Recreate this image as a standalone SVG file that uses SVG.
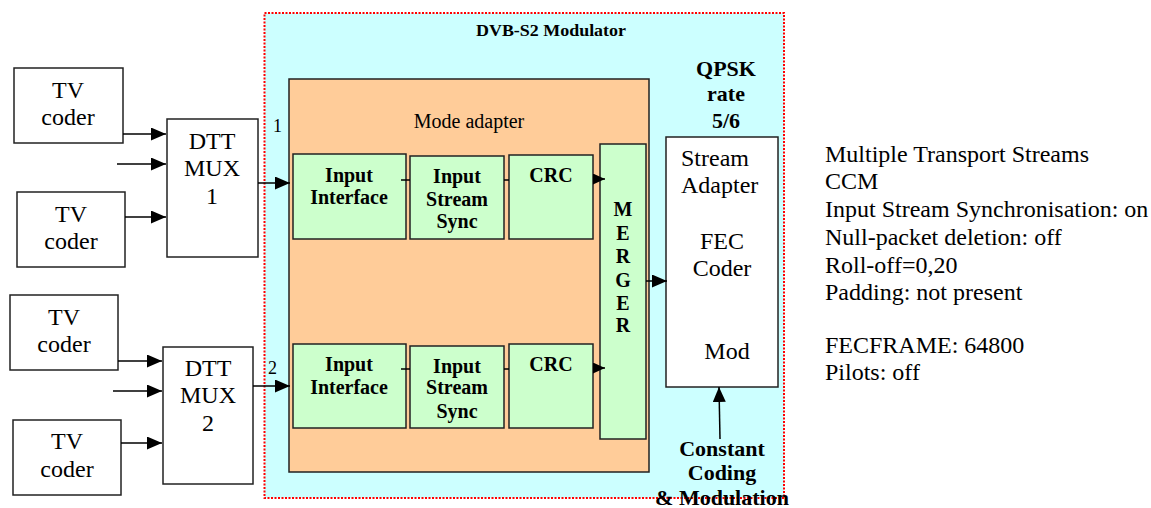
<svg xmlns="http://www.w3.org/2000/svg" width="1151" height="508" viewBox="0 0 1151 508">
<style>
.box{fill:#fff;stroke:#222;stroke-width:1.5}
.green{fill:#CCFFCC;stroke:#222;stroke-width:1.5}
.orange{fill:#FFCC99;stroke:#222;stroke-width:1.5}
text{font-family:'Liberation Serif',serif;fill:#000}
.t{font-size:24px}
.m{font-size:20px}
.b{font-size:20px;font-weight:bold}
.b22{font-size:22px;font-weight:bold}
.n{font-size:18px}
.c{text-anchor:middle}
.ln{stroke:#000;stroke-width:1.5;fill:none}
</style>
<defs>
<marker id="ah" markerUnits="userSpaceOnUse" markerWidth="15" markerHeight="13" refX="15" refY="6.5" orient="auto">
<path d="M0,0 L15,6.5 L0,13 z" fill="#000"/>
</marker>
<marker id="as" markerUnits="userSpaceOnUse" markerWidth="12" markerHeight="11" refX="12" refY="5.5" orient="auto">
<path d="M0,0 L12,5.5 L0,11 z" fill="#000"/>
</marker>
</defs>

<g id="modulator">
<rect x="264.5" y="13" width="519.5" height="485" fill="#CCFFFF" stroke="#FF0000" stroke-width="2" stroke-dasharray="2,1.5"/>
<text class="b c" x="551" y="36" style="font-size:17px" textLength="150" lengthAdjust="spacingAndGlyphs">DVB-S2 Modulator</text>
</g>

<g id="tvcoder1"><rect class="box" x="14" y="68" width="109" height="75"/>
<text class="t c" x="68" y="98">TV</text><text class="t c" x="68" y="125">coder</text></g>
<g id="tvcoder2"><rect class="box" x="17" y="192" width="108" height="75"/>
<text class="t c" x="71" y="222">TV</text><text class="t c" x="71" y="249">coder</text></g>
<g id="tvcoder3"><rect class="box" x="10" y="295" width="108" height="75"/>
<text class="t c" x="64" y="325">TV</text><text class="t c" x="64" y="352">coder</text></g>
<g id="tvcoder4"><rect class="box" x="13" y="420" width="108" height="75"/>
<text class="t c" x="67" y="449">TV</text><text class="t c" x="67" y="477">coder</text></g>

<g id="mux1"><rect class="box" x="167" y="119" width="91" height="138"/>
<text class="t c" x="212" y="149">DTT</text><text class="t c" x="212" y="176">MUX</text><text class="t c" x="212" y="204">1</text></g>
<g id="mux2"><rect class="box" x="163" y="347" width="90" height="137"/>
<text class="t c" x="208" y="376">DTT</text><text class="t c" x="208" y="403">MUX</text><text class="t c" x="208" y="431">2</text></g>

<g id="modeadapter"><rect class="orange" x="289" y="79" width="360" height="393"/>
<text class="m c" x="469" y="128">Mode adapter</text></g>

<g id="inputinterface1"><rect class="green" x="293" y="154" width="113" height="85"/>
<text class="b c" x="349" y="182">Input</text><text class="b c" x="349" y="204">Interface</text></g>
<g id="inputstreamsync1"><rect class="green" x="410" y="156" width="94" height="83"/>
<text class="b c" x="457" y="183">Input</text><text class="b c" x="457" y="206">Stream</text><text class="b c" x="457" y="228">Sync</text></g>
<g id="crc1"><rect class="green" x="509" y="155" width="84" height="84"/>
<text class="b c" x="551" y="182">CRC</text></g>

<g id="inputinterface2"><rect class="green" x="293" y="344" width="113" height="84"/>
<text class="b c" x="349" y="371">Input</text><text class="b c" x="349" y="394">Interface</text></g>
<g id="inputstreamsync2"><rect class="green" x="410" y="346" width="94" height="82"/>
<text class="b c" x="457" y="373">Input</text><text class="b c" x="457" y="394">Stream</text><text class="b c" x="457" y="418">Sync</text></g>
<g id="crc2"><rect class="green" x="509" y="344" width="84" height="84"/>
<text class="b c" x="551" y="371">CRC</text></g>

<g id="merger"><rect class="green" x="600" y="144" width="46" height="295"/>
<text class="b c" x="623" y="216">M</text><text class="b c" x="623" y="240">E</text><text class="b c" x="623" y="263">R</text><text class="b c" x="623" y="287">G</text><text class="b c" x="623" y="310">E</text><text class="b c" x="623" y="332">R</text></g>

<g id="streamadapter"><rect class="box" x="666" y="137" width="112" height="250"/>
<text class="t" x="681" y="166">Stream</text><text class="t" x="681" y="193">Adapter</text>
<text class="t c" x="722" y="249">FEC</text><text class="t c" x="722" y="276">Coder</text>
<text class="t c" x="727" y="359">Mod</text></g>

<g id="qpsk"><text class="b22 c" x="726" y="76">QPSK</text><text class="b22 c" x="726" y="101">rate</text><text class="b22 c" x="726" y="128">5/6</text></g>

<g id="ccm"><text class="b22 c" x="722" y="456">Constant</text><text class="b22 c" x="722" y="480">Coding</text><text class="b22 c" x="722" y="505">&amp; Modulation</text></g>

<g id="params">
<text class="t" x="825" y="162">Multiple Transport Streams</text>
<text class="t" x="825" y="189">CCM</text>
<text class="t" x="825" y="217">Input Stream Synchronisation: on</text>
<text class="t" x="825" y="245">Null-packet deletion: off</text>
<text class="t" x="825" y="273">Roll-off=0,20</text>
<text class="t" x="825" y="300">Padding: not present</text>
<text class="t" x="825" y="353">FECFRAME: 64800</text>
<text class="t" x="825" y="380">Pilots: off</text>
</g>

<g id="labels">
<text class="n" x="273" y="132">1</text>
<text class="n" x="268" y="374">2</text>
</g>

<g id="connectors">
<line class="ln" x1="123" y1="134" x2="166" y2="134" marker-end="url(#ah)"/>
<line class="ln" x1="117" y1="164" x2="166" y2="164" marker-end="url(#ah)"/>
<line class="ln" x1="125" y1="217" x2="166" y2="217" marker-end="url(#ah)"/>
<line class="ln" x1="118" y1="361" x2="162" y2="361" marker-end="url(#ah)"/>
<line class="ln" x1="113" y1="391" x2="162" y2="391" marker-end="url(#ah)"/>
<line class="ln" x1="121" y1="443" x2="162" y2="443" marker-end="url(#ah)"/>
<line class="ln" x1="258" y1="183" x2="290" y2="183" marker-end="url(#ah)"/>
<line class="ln" x1="253" y1="386" x2="290" y2="386" marker-end="url(#ah)"/>
<line class="ln" x1="401" y1="180" x2="410" y2="180"/>
<line class="ln" x1="504" y1="180" x2="509" y2="180"/>
<line class="ln" x1="401" y1="369" x2="410" y2="369"/>
<line class="ln" x1="504" y1="369" x2="509" y2="369"/>
<line class="ln" x1="593" y1="179" x2="605" y2="179" marker-end="url(#as)"/>
<line class="ln" x1="593" y1="368" x2="605" y2="368" marker-end="url(#as)"/>
<line class="ln" x1="646" y1="281" x2="667" y2="281" marker-end="url(#ah)"/>
<line class="ln" x1="720" y1="439" x2="719" y2="387" marker-end="url(#ah)"/>
</g>
</svg>
